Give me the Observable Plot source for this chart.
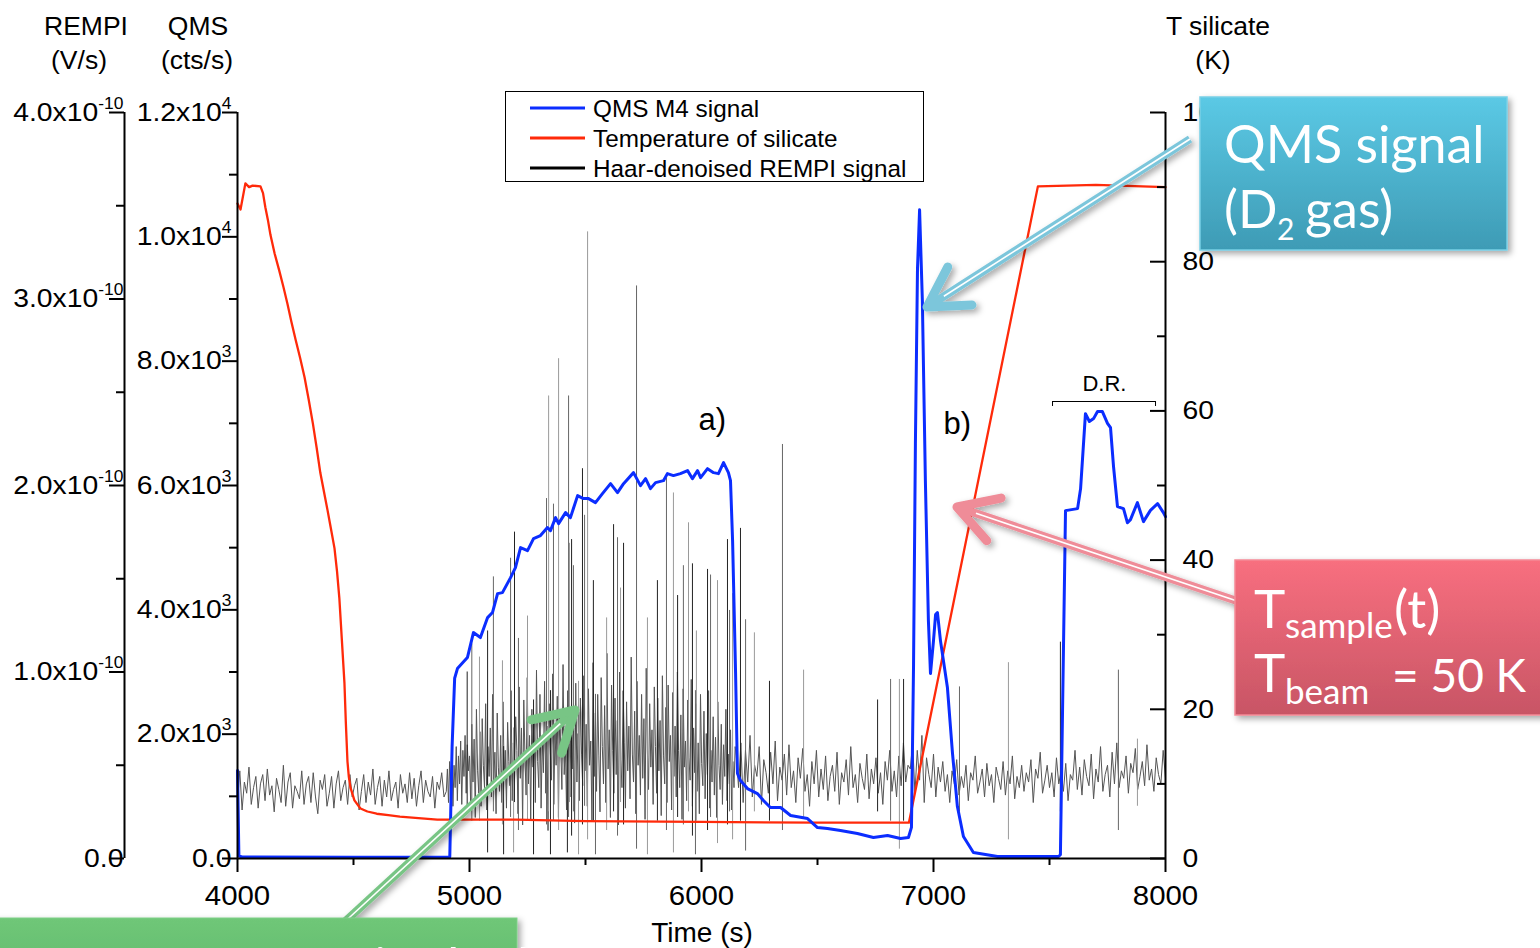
<!DOCTYPE html>
<html><head><meta charset="utf-8">
<script src="https://cdn.jsdelivr.net/npm/d3@7"></script>
<script src="https://cdn.jsdelivr.net/npm/@observablehq/plot@0.6"></script>
<style>
html,body{margin:0;padding:0;background:#fff;}
#wrap{position:relative;width:1540px;height:948px;overflow:hidden;background:#fff;}
#wrap svg{position:absolute;left:0;top:0;}
</style></head><body><div id="wrap"></div>
<script>
// ---------------- DATA ----------------
const timeTicks = [4000, 5000, 6000, 7000, 8000];
const timeMinor = [4500, 5500, 6500, 7500];
const qmsTickValues = [0, 2000, 4000, 6000, 8000, 10000, 12000];
const qmsTickLabels = ["0.0", "2.0x10^3", "4.0x10^3", "6.0x10^3", "8.0x10^3", "1.0x10^4", "1.2x10^4"];
const qmsMinor = [1000, 3000, 5000, 7000, 9000, 11000];
const rempiTickValues = [0, 1e-10, 2e-10, 3e-10, 4e-10];
const rempiTickLabels = ["0.0", "1.0x10^-10", "2.0x10^-10", "3.0x10^-10", "4.0x10^-10"];
const rempiMinor = [0.5e-10, 1.5e-10, 2.5e-10, 3.5e-10];
const tempTickValues = [0, 20, 40, 60, 80, 100];
const tempMinor = [10, 30, 50, 70, 90];

const QMS_MAX = 12000, REMPI_MAX = 4e-10, T_MAX = 100;
const rempiUnit = 1e-12; // REMPI values below are in 1e-12 V/s

// QMS M4 signal (cts/s)
const qmsTime = [4000,4006,4020,4500,4915,4925,4936,4948,4991,5017,5047,5078,5099,5121,5142,5177,5198,5220,5250,5276,5306,5336,5349,5371,5384,5414,5435,5466,5491,5513,5543,5573,5608,5638,5664,5707,5737,5759,5780,5802,5836,5853,5879,5909,5940,5961,5983,5996,6026,6052,6073,6095,6116,6125,6134,6147,6155,6168,6198,6241,6267,6297,6341,6384,6457,6500,6543,6599,6672,6741,6802,6858,6892,6905,6914,6922,6931,6940,6952,6965,6978,6987,7000,7009,7017,7030,7060,7082,7103,7129,7172,7276,7539,7547,7569,7621,7634,7655,7672,7690,7707,7728,7750,7763,7776,7793,7819,7836,7849,7879,7905,7935,7966,7991,8000];
const qmsCounts = [1415,40,25,22,25,1800,2900,3055,3232,3634,3554,3875,3956,4261,4277,4518,4679,5001,4953,5146,5194,5323,5274,5483,5387,5564,5483,5837,5789,5789,5725,5869,6030,5885,6030,6207,5998,6110,5950,6046,6078,6191,6159,6191,6239,6110,6239,6126,6271,6207,6191,6368,6207,6078,5113,2964,1367,1254,1125,1045,932,820,820,691,643,498,482,450,402,338,370,322,338,500,3120,6673,9485,10436,8973,6078,3827,2975,3505,3924,3956,3505,2750,1688,836,354,96,32,32,60,5596,5628,5950,7156,7030,7076,7190,7189,7000,6931,6303,5660,5628,5400,5451,5725,5419,5600,5708,5564,5500];

// Temperature of silicate (K)
const tempTime = [4000,4013,4034,4050,4065,4099,4110,4120,4131,4142,4160,4180,4198,4215,4232,4250,4270,4289,4307,4325,4341,4357,4375,4388,4401,4418,4429,4439,4450,4461,4467,4474,4480,4487,4504,4530,4560,4600,4650,4700,4780,4861,5200,5500,6000,6500,6894,7450,7700,8000];
const tempK = [87.8,87.0,90.5,90.0,90.2,90.1,89.2,87.3,85.6,83.6,81.1,78.8,76.6,74.4,72.0,69.6,67.1,64.5,61.5,58.3,55.1,51.7,48.8,46.7,44.5,41.6,38.5,34.9,29.2,23.5,18.2,13.0,10.9,9.5,7.8,6.7,6.3,6.0,5.8,5.6,5.4,5.2,5.2,5.0,4.9,4.8,4.8,90.1,90.3,90.0];

// Haar-denoised REMPI signal (1e-12 V/s), evenly sampled within each time span
const rempiA = [30,47,26,41,35,49,29,38,44,27,40,45,31,48,34,39,25,43,37,30,50,28,41,46,27,39,36,32,47,29,40,44,30,46,33,24,42,37,45,28,35,44,27,40,47,31,38,42,29,45,33,39,43,26,36,45,30,41,34,48,29,38,44,28,42,33,47,31,37,41,27,45,35,40,30,46,32,43,28,39,47,30,42,36,33,44,27,41,37,46,33];
const rempiB = [36,48,30,52,33,57,28,50,38,60,31,55,40,63,29,58,44,66,35,61,47];
const rempiC = [55,30,72,41,64,22,80,47,35,68,28,75,50,38,83,26,60,44,70,33,88,42,57,24,78,49,36,66,30,84,45,58,27,73,52,39,90,31,62,46,76,
  58,24,92,43,70,18,85,55,34,97,40,66,21,80,49,73,30,101,52,38,88,27,64,46,95,35,71,15,83,57,42,99,29,68,50,87,22,76,60,37,104,45,63,26,90,54,33,81,48,70,19,94,41,67,31,86,56,39,98,47,
  72,28,91,50,63,20,105,44,78,36,88,55,25,97,60,40,82,30,110,48,69,22,93,58,35,86,45,74,18,100,53,38,90,62,27,84,47,71,32,108,56,41,79,24,95,50,66,34,88,43,75,21,102,58,37,83,49,69,29,92,
  60,35,86,47,74,23,98,55,40,81,30,93,52,66,26,89,44,71,33,100,58,38,77,21,91,49,63,31,85,54,42,96,28,70,46,83,36,62,24,88,51,39,79,32,67,45,90,27,58,41,76,34,65,22,84,50,37,72,29,61,44,80,31,56,40,69,26,52,38,60];
const rempiD = [55,38,62,30,58,41,66,33,50,44,60,29,53,46,35,57,40,63,31,49,42,56,34,61,38,47,30,54,43,59,36,45,28,52,40,58,33,48,37,55,31,44,50,36,57,29,46,41,53,34,60,38,45,30,51,43,37,56,32,48,40,54,35,46,29,52,42,58,36,47,33,55,39,62,41,50];
const rempiE = [48,62,35,58,42,66,30,54,45,38,56,33,49,41,52,36,45,30,47,40,53,34,44,38,50,31,46,42,55,35,41,48,33,51,39,45,30,49,43,37,52,34,47,40,55,32,44,38,50,36,46,41,53,30,48,43,57,35,42,50,38,46,33,54,40,47,36,51,31,45,42,58,37,49,34,53,44,39,56,32,48,41,60,36,45,50,33,57,40,62,38,47,43,55,35,51,46,59,37,44,52,39,61,42,48,36,54,45,40,58,43];
const rempiSpans = [[4000, 4900], [4900, 5000], [5000, 6150], [6150, 6900], [6900, 8000]];
const rempiParts = [rempiA, rempiB, rempiC, rempiD, rempiE];

// single-sample REMPI spikes (time, low, high) in 1e-12 V/s
const spikeTime = [4990,5010,5043,5078,5103,5142,5147,5177,5190,5194,5211,5250,5276,5332,5341,5349,5362,5384,5422,5427,5431,5440,5448,5470,5487,5496,5509,5534,5543,5591,5621,5638,5651,5664,5720,5767,5810,5849,5879,5897,5922,5944,5961,5974,5978,6026,6039,6069,6112,6121,6134,6168,6190,6228,6293,6349,6440,6759,6815,6853,6871,7112,7323,7547,7797,7879];
const spikeLow  = [25,20,20,3,25,18,2,22,3,30,15,20,2,18,25,2,20,15,3,22,30,12,25,2,18,28,10,20,2,15,25,12,30,18,5,2,20,15,3,22,18,25,12,2,20,15,22,8,18,25,10,20,4,25,20,15,22,25,20,5,20,25,10,25,15,28];
const spikeHigh = [100,115,108,122,151,106,60,161,70,175,118,130,85,193,248,90,190,268,80,248,169,171,157,95,209,184,336,149,88,129,179,172,145,169,307,129,149,204,196,141,157,180,158,90,122,155,152,149,171,133,142,177,128,121,95,222,101,85,96,96,96,92,105,116,101,64];

// annotation labels (time, cts/s)
const panelLabels = [{t: 6047, v: 7046, label: "a)"}, {t: 7103, v: 6981, label: "b)"}];
const drLabel = [{t: 7737, v: 7641, label: "D.R."}];
const drSpan = {t1: 7513, t2: 7957, v: 7351, vEnd: 7271};

// ---------------- BUILD ----------------
const W = 1540, H = 948, ML = 237, MR = 375, MT = 112, MB = 90;
const frameW = W - ML - MR;
const kR = QMS_MAX / REMPI_MAX * rempiUnit;
const kT = QMS_MAX / T_MAX;

const qms = qmsTime.map((t, i) => ({t, v: qmsCounts[i]}));
const temp = tempTime.map((t, i) => ({t, v: tempK[i] * kT}));
const rempi = [];
rempiParts.forEach((vals, k) => {
  const [s, e] = rempiSpans[k];
  const last = k === rempiParts.length - 1;
  const step = (e - s) / (last ? vals.length - 1 : vals.length);
  vals.forEach((v, i) => rempi.push({t: s + i * step, v: v * kR}));
});
const spikes = spikeTime.map((t, i) => ({t, lo: spikeLow[i] * kR, hi: spikeHigh[i] * kR}));

const rempiPos = rempiTickValues.map(v => v / REMPI_MAX * QMS_MAX);
const rempiMinorPos = rempiMinor.map(v => v / REMPI_MAX * QMS_MAX);
const tempPos = tempTickValues.map(v => v * kT);
const tempMinorPos = tempMinor.map(v => v * kT);
const near = (arr, d) => arr.findIndex(a => Math.abs(a - d) < 1e-6);

const axisFont = 26;
const chart = Plot.plot({
  width: W, height: H,
  marginLeft: ML, marginRight: MR, marginTop: MT, marginBottom: MB,
  x: {domain: [4000, 8000], label: null},
  y: {domain: [0, QMS_MAX], label: null},
  style: {fontFamily: "'Liberation Sans', Arial, sans-serif", color: "#000", background: "transparent", overflow: "visible"},
  marks: [
    Plot.line(rempi, {x: "t", y: "v", stroke: "#555", strokeWidth: 1}),
    Plot.ruleX(spikes.filter((d, i) => i % 3 === 0), {x: "t", y1: "lo", y2: "hi", stroke: "#222", strokeWidth: 1}),
    Plot.ruleX(spikes.filter((d, i) => i % 3 === 1), {x: "t", y1: "lo", y2: "hi", stroke: "#666", strokeWidth: 1}),
    Plot.ruleX(spikes.filter((d, i) => i % 3 === 2), {x: "t", y1: "lo", y2: "hi", stroke: "#9a9a9a", strokeWidth: 1}),
    Plot.line(temp, {x: "t", y: "v", stroke: "#ff2a0a", strokeWidth: 2.3}),
    Plot.line(qms, {x: "t", y: "v", stroke: "#0b2dff", strokeWidth: 3}),
    // axis lines
    Plot.ruleY([0], {stroke: "#000", strokeWidth: 2}),
    Plot.ruleX([4000], {stroke: "#000", strokeWidth: 2}),
    Plot.ruleX([8000], {stroke: "#000", strokeWidth: 2}),
    Plot.ruleX([4000], {stroke: "#000", strokeWidth: 2, dx: -113}),
    // x axis
    Plot.axisX(timeTicks, {tickSize: 14, tickPadding: 13, fontSize: 27, strokeWidth: 2, label: null, tickFormat: d => String(d)}),
    Plot.axisX(timeMinor, {tickSize: 7, strokeWidth: 2, label: null, tickFormat: () => ""}),
    // QMS axis
    Plot.axisY(qmsTickValues, {anchor: "left", tickSize: 15, tickPadding: -9, strokeWidth: 2, fontSize: axisFont, label: null,
      tickFormat: d => qmsTickLabels[near(qmsTickValues, d)]}),
    Plot.axisY(qmsMinor, {anchor: "left", tickSize: 8, strokeWidth: 2, label: null, tickFormat: () => ""}),
    // REMPI axis
    Plot.axisY(rempiPos, {anchor: "left", dx: -113, tickSize: 15, tickPadding: -14, strokeWidth: 2, fontSize: axisFont, label: null,
      tickFormat: d => rempiTickLabels[near(rempiPos, d)]}),
    Plot.axisY(rempiMinorPos, {anchor: "left", dx: -113, tickSize: 8, strokeWidth: 2, label: null, tickFormat: () => ""}),
    // Temperature axis (ticks inward)
    Plot.axisY(tempPos, {anchor: "left", dx: frameW, tickSize: 15, strokeWidth: 2, label: null, tickFormat: () => ""}),
    Plot.axisY(tempMinorPos, {anchor: "left", dx: frameW, tickSize: 8, strokeWidth: 2, label: null, tickFormat: () => ""}),
    Plot.axisY(tempPos, {anchor: "right", tickSize: 0, tickPadding: 17, fontSize: axisFont, label: null,
      tickFormat: d => String(tempTickValues[near(tempPos, d)])}),
    // annotations
    Plot.text(panelLabels, {x: "t", y: "v", text: "label", fontSize: 31, fill: "#000"}),
    Plot.text(drLabel, {x: "t", y: "v", text: "label", fontSize: 22, fill: "#000"}),
    Plot.ruleY([drSpan], {x1: "t1", x2: "t2", y: "v", stroke: "#000", strokeWidth: 1}),
    Plot.ruleX([drSpan.t1, drSpan.t2], {x: d => d, y1: drSpan.v, y2: drSpan.vEnd, stroke: "#000", strokeWidth: 1})
  ]
});

// superscripts on tick labels + slight horizontal stretch like the original
d3.select(chart).selectAll("g[aria-label$='tick label'] text").each(function () {
  const s = this.textContent;
  if (s.includes("^") && this.children.length === 0) {
    const [b, e] = s.split("^");
    this.textContent = b;
    d3.select(this).append("tspan").attr("dy", "-12").attr("font-size", "16").text(e);
  }
  const tr = this.getAttribute("transform");
  if (tr && tr.includes("translate") && s !== "") this.setAttribute("transform", tr + " scale(1.09,1)");
});

const wrap = document.getElementById("wrap");
wrap.appendChild(chart);

// ---------------- OVERLAY (titles, legend, callouts) ----------------
const ov = d3.select(wrap).append("svg").attr("width", W).attr("height", H)
  .style("font-family", "'Liberation Sans', Arial, sans-serif");
const defs = ov.append("defs");
const sh = defs.append("filter").attr("id", "shadow").attr("x", "-20%").attr("y", "-20%").attr("width", "140%").attr("height", "140%");
sh.append("feDropShadow").attr("dx", 3).attr("dy", 3).attr("stdDeviation", 3).attr("flood-color", "#000").attr("flood-opacity", 0.35);
function grad(id, c1, c2) {
  const g = defs.append("linearGradient").attr("id", id).attr("x1", 0).attr("y1", 0).attr("x2", 0).attr("y2", 1);
  g.append("stop").attr("offset", "0%").attr("stop-color", c1);
  g.append("stop").attr("offset", "100%").attr("stop-color", c2);
}
grad("gBlue", "#5bc9e5", "#3e9bb5");
grad("gRed", "#f86f7f", "#c85565");
grad("gGreen", "#6fc778", "#64bb6d");

// axis titles
const titles = [
  ["REMPI", 86, 35], ["(V/s)", 79, 69], ["QMS", 198, 35], ["(cts/s)", 197, 69],
  ["T silicate", 1218, 35], ["(K)", 1213, 69], ["Time (s)", 702, 942]
];
titles.forEach(([t, x, y]) => ov.append("text").attr("x", x).attr("y", y).attr("text-anchor", "middle")
  .attr("font-size", t === "Time (s)" ? 28 : 26.5).attr("fill", "#000").text(t));

// legend
const lg = ov.append("g");
lg.append("rect").attr("x", 505.5).attr("y", 91.5).attr("width", 418).attr("height", 90).attr("fill", "#fff").attr("stroke", "#000").attr("stroke-width", 1);
[["QMS M4 signal", "#0b2dff", 108], ["Temperature of silicate", "#ff2a0a", 138], ["Haar-denoised REMPI signal", "#000", 168]].forEach(([t, c, y]) => {
  lg.append("line").attr("x1", 530).attr("x2", 585).attr("y1", y).attr("y2", y).attr("stroke", c).attr("stroke-width", 3);
  lg.append("text").attr("x", 593).attr("y", y + 9).attr("font-size", 24.3).attr("fill", "#000").text(t);
});

// arrows
function arrow(tail, tip, color) {
  const g = ov.append("g").attr("filter", "url(#shadow)");
  const ang = Math.atan2(tail[1] - tip[1], tail[0] - tip[0]);
  const L = 45, a = Math.PI / 6;
  const p1 = [tip[0] + L * Math.cos(ang - a), tip[1] + L * Math.sin(ang - a)];
  const p2 = [tip[0] + L * Math.cos(ang + a), tip[1] + L * Math.sin(ang + a)];
  const s0 = [tip[0] + 6 * Math.cos(ang), tip[1] + 6 * Math.sin(ang)];
  g.append("line").attr("x1", tail[0]).attr("y1", tail[1]).attr("x2", s0[0]).attr("y2", s0[1]).attr("stroke", color).attr("stroke-width", 8);
  g.append("line").attr("x1", tail[0]).attr("y1", tail[1]).attr("x2", s0[0] + 14 * Math.cos(ang)).attr("y2", s0[1] + 14 * Math.sin(ang)).attr("stroke", "#fff").attr("stroke-width", 1.6);
  g.append("path").attr("d", `M${p1[0]},${p1[1]}L${tip[0]},${tip[1]}L${p2[0]},${p2[1]}`).attr("fill", "none")
    .attr("stroke", color).attr("stroke-width", 9).attr("stroke-linecap", "round").attr("stroke-linejoin", "round");
}
arrow([1190, 139], [927, 307], "#7cc6db");
arrow([1240, 602], [957, 507], "#ef8c98");
arrow([338, 928], [575, 710], "#78c585");

// callout boxes
const cf = "Lato, 'Open Sans', sans-serif";
ov.append("rect").attr("x", 1200).attr("y", 97).attr("width", 307).attr("height", 153).attr("fill", "url(#gBlue)")
  .attr("stroke", "#78d0e6").attr("stroke-width", 1.5).attr("filter", "url(#shadow)");
const tb = ov.append("text").attr("font-family", cf).attr("fill", "#fff").attr("font-size", 52);
tb.append("tspan").attr("x", 1224).attr("y", 163).text("QMS signal");
const tb2 = ov.append("text").attr("font-family", cf).attr("fill", "#fff").attr("font-size", 52);
tb2.append("tspan").attr("x", 1224).attr("y", 228).text("(D");
tb2.append("tspan").attr("x", 1277).attr("y", 240).attr("font-size", 30).text("2");
tb2.append("tspan").attr("x", 1305).attr("y", 228).text("gas)");

ov.append("rect").attr("x", 1235).attr("y", 560).attr("width", 330).attr("height", 155).attr("fill", "url(#gRed)")
  .attr("stroke", "#f58a97").attr("stroke-width", 1.5).attr("filter", "url(#shadow)");
const tr = ov.append("text").attr("font-family", cf).attr("fill", "#fff").attr("font-size", 53);
tr.append("tspan").attr("x", 1254).attr("y", 628).text("T");
tr.append("tspan").attr("x", 1285).attr("y", 638).attr("font-size", 35).text("sample");
tr.append("tspan").attr("x", 1394).attr("y", 628).text("(t)");
const tr2 = ov.append("text").attr("font-family", cf).attr("fill", "#fff").attr("font-size", 53);
tr2.append("tspan").attr("x", 1254).attr("y", 692).text("T");
tr2.append("tspan").attr("x", 1285).attr("y", 704).attr("font-size", 35).text("beam");
tr2.append("tspan").attr("x", 1392).attr("y", 692).attr("font-size", 46).text("= 50 K");

ov.append("rect").attr("x", -10).attr("y", 918).attr("width", 527).attr("height", 60).attr("fill", "url(#gGreen)")
  .attr("stroke", "#7fd088").attr("stroke-width", 1).attr("filter", "url(#shadow)");
ov.append("text").attr("font-family", cf).attr("fill", "#fff").attr("font-size", 52).attr("x", 150).attr("y", 985)
  .text("no atoms in the beam");
</script>
</body></html>
